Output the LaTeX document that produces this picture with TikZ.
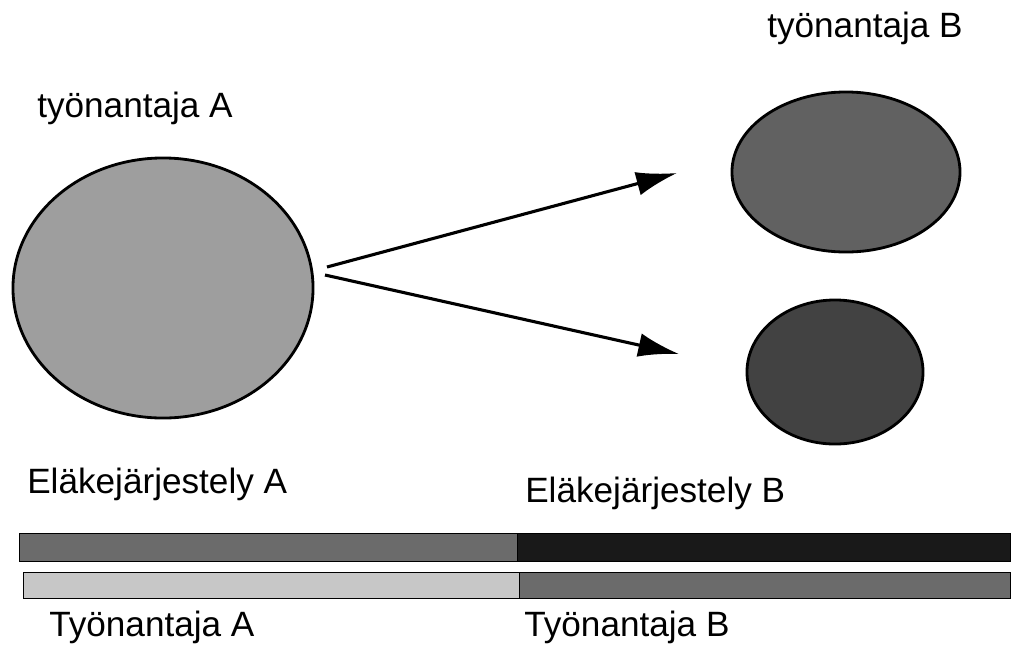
\documentclass[tikz,border=0pt]{standalone}
\usepackage{fontspec}
\setmainfont{Liberation Sans}
\usetikzlibrary{positioning, arrows.meta, shapes.geometric}

\begin{document}
\begin{tikzpicture}[
  x=0.025cm, y=-0.025cm,
  label/.style={anchor=base west, inner sep=0pt,
                font=\fontsize{25}{29}\selectfont},
  firm/.style={ellipse, draw, line width=2pt, inner sep=0pt},
  bar/.style={draw, line width=0.6pt},
  arr/.style={-{Latex[length=29pt, width=17pt]}, line width=2.2pt}
]
  \useasboundingbox (0,0) rectangle (1013,653);

  % employers
  \node[firm, fill=black!38, minimum width=7.5cm, minimum height=6.5cm] (empA)  at (163,288) {};
  \node[firm, fill=black!62, minimum width=5.7cm, minimum height=4cm]   (empB1) at (846,172) {};
  \node[firm, fill=black!74, minimum width=4.4cm, minimum height=3.6cm] (empB2) at (835,372) {};

  \node[label] (lA) at (37,117) {työnantaja A};
  \node[label] (lB) at (767,37) {työnantaja B};

  % transfer
  \coordinate (s1) at (327,267);
  \coordinate (s2) at (325,275);
  \coordinate (t1) at (677,173);
  \coordinate (t2) at (679,354);
  \draw[arr] (s1) -- (t1);
  \draw[arr] (s2) -- (t2);

  % pension schemes
  \node[label] (pA) at (27,493)  {Eläkejärjestely A};
  \node[label] (pB) at (525,502) {Eläkejärjestely B};

  \draw[bar, fill=black!58] (19,533) rectangle (517,561);
  \draw[bar, fill=black!90] (517,533) rectangle (1010,561);
  \draw[bar, fill=black!22] (23,572) rectangle (519,598);
  \draw[bar, fill=black!58] (519,572) rectangle (1010,598);

  \node[label] (wA) at (49,636)  {Työnantaja A};
  \node[label] (wB) at (524,636) {Työnantaja B};
\end{tikzpicture}
\end{document}
